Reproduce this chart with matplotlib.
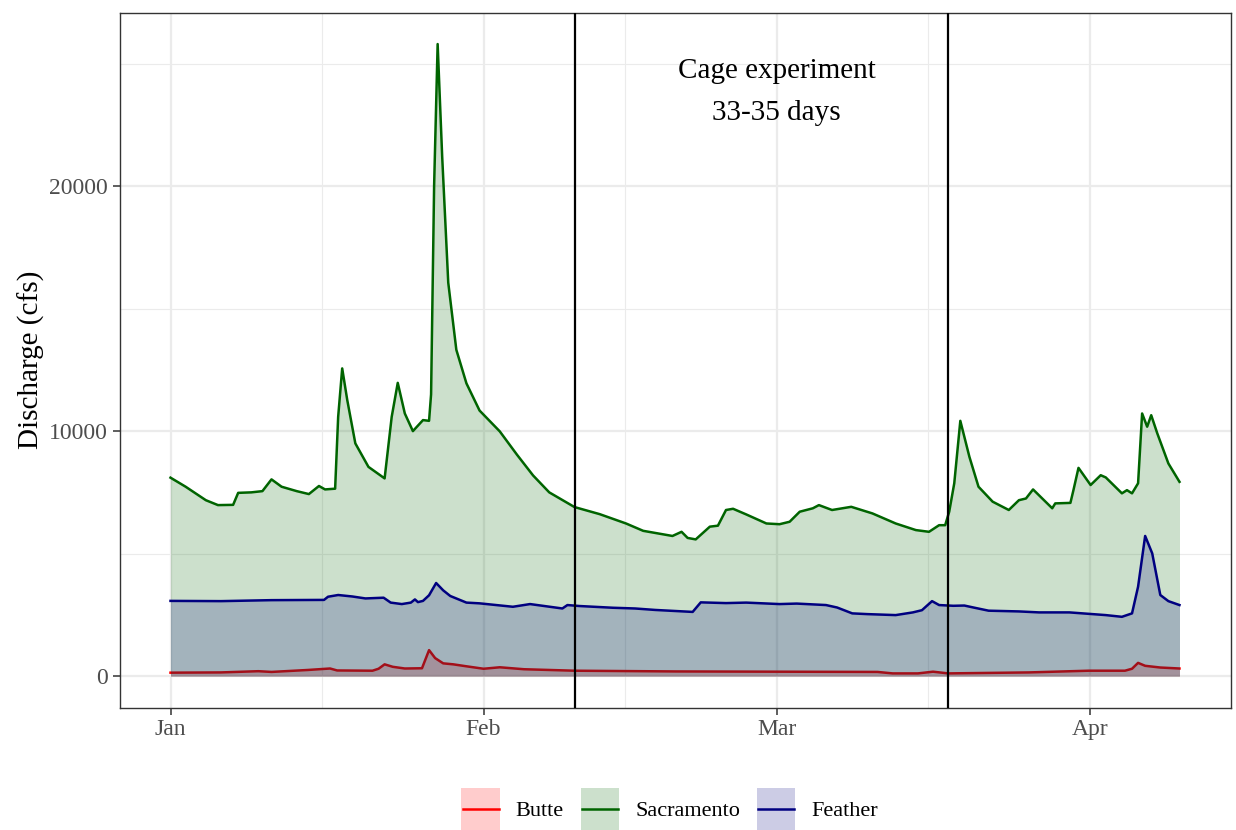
import numpy as np
import matplotlib
matplotlib.use("Agg")
import matplotlib.pyplot as plt
from matplotlib.patches import Rectangle
from matplotlib.lines import Line2D
from matplotlib.legend_handler import HandlerBase

plt.rcParams['font.family'] = ['Liberation Serif', 'DejaVu Serif']

# Discharge records, day offsets from 1 Jan 2020
start = np.datetime64('2020-01-01T00:00')

sac_day = [0, 1.5, 3.5, 4.7, 6.2, 6.7, 8.0, 9.1, 10.0, 11.0, 12.5, 13.7, 14.7, 15.3,
           16.3, 16.6, 17.0, 17.5, 18.3, 19.6, 21.2, 21.9, 22.5, 23.2, 24.0, 25.0,
           25.6, 25.8, 26.1, 26.45, 26.9, 27.5, 28.3, 29.3, 30.6, 32.6, 34.3, 35.9,
           37.5, 40.0, 42.5, 45.1, 46.8, 49.7, 50.6, 51.2, 52.0, 53.4, 54.2, 55.0,
           55.7, 57.0, 59.0, 60.3, 61.3, 62.3, 63.6, 64.2, 65.5, 67.4, 69.5, 71.8,
           73.8, 75.1, 76.1, 76.7, 77.1, 77.6, 78.2, 79.1, 80.0, 81.4, 83.0, 84.0,
           84.7, 85.4, 87.3, 87.6, 89.1, 89.4, 89.9, 91.1, 92.1, 92.6, 94.2, 94.7,
           95.2, 95.8, 96.2, 96.7, 97.1, 97.7, 98.8, 99.9]
sac_cfs = [8100, 7730, 7180, 6980, 6990, 7480, 7500, 7550, 8030, 7730, 7550, 7430, 7760, 7620,
           7650, 10580, 12560, 11270, 9500, 8540, 8070, 10580, 11970, 10720, 10000, 10450,
           10420, 11500, 20000, 25800, 21200, 16060, 13320, 11950, 10840, 9990, 9040, 8190,
           7500, 6900, 6610, 6230, 5930, 5720, 5890, 5640, 5580, 6100, 6140, 6780,
           6830, 6600, 6230, 6200, 6300, 6710, 6850, 6980, 6780, 6910, 6640, 6230,
           5960, 5890, 6160, 6160, 6710, 7870, 10420, 8950, 7730, 7120, 6780, 7180,
           7250, 7620, 6850, 7050, 7070, 7590, 8500, 7800, 8200, 8110, 7460, 7590,
           7460, 7870, 10720, 10180, 10650, 9910, 8680, 7930]

fea_day = [0, 5, 10, 15.2, 15.6, 16.6, 18.0, 19.3, 21.1, 21.8, 22.9, 23.8, 24.2, 24.5,
           25.0, 25.6, 26.3, 27.0, 27.7, 29.3, 30.6, 33.9, 35.6, 38.8, 39.3, 40.5,
           43.8, 46.0, 48.0, 51.7, 52.5, 55.0, 57.0, 60.3, 62.0, 64.9, 66.0, 67.5,
           69.0, 71.8, 73.5, 74.4, 75.4, 76.1, 77.5, 78.6, 79.5, 81.0, 84.0, 86.0,
           89.0, 92.6, 94.2, 95.2, 95.8, 96.5, 97.2, 98.0, 98.8, 99.9]
fea_cfs = [3070, 3060, 3100, 3110, 3240, 3310, 3250, 3170, 3200, 3000, 2940, 3000, 3130, 3020,
           3070, 3300, 3800, 3500, 3270, 3000, 2970, 2830, 2940, 2760, 2900, 2860,
           2790, 2760, 2700, 2620, 3010, 2980, 3000, 2940, 2960, 2900, 2800, 2560,
           2530, 2490, 2600, 2690, 3060, 2900, 2870, 2880, 2800, 2670, 2640, 2600,
           2600, 2490, 2420, 2560, 3650, 5720, 5010, 3310, 3060, 2900]

but_day = [0, 5, 8.7, 10, 13.6, 15.8, 16.5, 20.0, 20.6, 21.2, 22.0, 23.2, 24.9, 25.6,
           26.2, 27.0, 28.0, 29.3, 31.0, 32.6, 35.0, 40.0, 50.0, 60.0, 70.0, 71.5,
           74.0, 75.5, 77.0, 85.0, 90.9, 94.5, 95.2, 95.8, 96.5, 98.0, 99.9]
but_cfs = [140, 150, 200, 170, 250, 310, 230, 220, 300, 480, 380, 310, 320, 1060,
           735, 520, 480, 400, 300, 360, 280, 220, 190, 180, 170, 110,
           110, 180, 110, 150, 220, 220, 300, 540, 420, 350, 310]

series_names = ['Butte', 'Sacramento', 'Feather']
series_colors = ['red', '#006400', '#000080']

cage_start = np.datetime64('2020-02-10')
cage_end = np.datetime64('2020-03-18')
cage_label = 'Cage experiment\n33-35 days'
cage_label_at = (np.datetime64('2020-03-01'), 23850)

y_ticks = [0, 10000, 20000]
y_minor = [5000, 15000, 25000]
x_ticks = ['2020-01-01', '2020-02-01', '2020-03-01', '2020-04-01']
x_tick_labels = ['Jan', 'Feb', 'Mar', 'Apr']


def to_dates(days):
    return start + np.round(np.asarray(days, dtype=float) * 1440).astype('timedelta64[m]')


class AreaKey:
    """Legend entry for a shaded area with its outline."""
    def __init__(self, color, lw):
        self.color = color
        self.lw = lw


class AreaKeyHandler(HandlerBase):
    def create_artists(self, legend, orig_handle, xdescent, ydescent,
                       width, height, fontsize, trans):
        x0, y0 = -xdescent, -ydescent
        box = Rectangle((x0, y0), width, height, facecolor=orig_handle.color,
                        alpha=0.2, edgecolor='none', transform=trans)
        ym = y0 + height / 2
        line = Line2D([x0 + 1, x0 + width - 1], [ym, ym], color=orig_handle.color,
                      lw=orig_handle.lw, transform=trans)
        return [box, line]


fig = plt.figure(figsize=(12.36, 8.30), dpi=100)
ax = fig.add_axes([120 / 1236, 1 - 707.7 / 830, 1111 / 1236, 695 / 830])
ax.set_axisbelow(True)

# each river is layered in turn: its shaded area, then its outline,
# so later areas tint the earlier outlines
data = [(but_day, but_cfs), (sac_day, sac_cfs), (fea_day, fea_cfs)]
handles = []
for i, ((days, vals), name, col) in enumerate(zip(data, series_names, series_colors)):
    d = to_dates(days)
    z = 1 + 0.2 * i
    ax.fill_between(d, 0, vals, color=col, alpha=0.2, lw=0, zorder=z)
    ax.plot(d, vals, color=col, lw=1.8, zorder=z + 0.1)
    handles.append(AreaKey(col, 1.8))

for x in (cage_start, cage_end):
    ax.axvline(x, color='black', lw=1.6, zorder=5)

ax.text(cage_label_at[0], cage_label_at[1], cage_label, ha='center', va='center',
        fontsize=21, linespacing=1.8, color='black')

# axis limits with 5% padding around the data range
ax.set_xlim(start - np.timedelta64(5, 'D'), start + np.timedelta64(105, 'D'))
ax.set_ylim(-1290, 27080)

xt = [np.datetime64(t) for t in x_ticks]
ax.set_xticks(xt)
ax.set_xticklabels(x_tick_labels)
mids = [xt[i] + (xt[i + 1] - xt[i]) / 2 for i in range(len(xt) - 1)]
ax.set_xticks(mids, minor=True)
ax.set_yticks(y_ticks)
ax.set_yticklabels([str(v) for v in y_ticks])
ax.set_yticks(y_minor, minor=True)

ax.grid(which='major', color='#EBEBEB', lw=1.6)
ax.grid(which='minor', color='#EBEBEB', lw=0.8)

for s in ax.spines.values():
    s.set_color('#333333')
    s.set_linewidth(1.0)

ax.tick_params(which='major', length=5, width=1.1, color='#333333',
               labelsize=17, labelcolor='#4D4D4D', pad=3)
ax.tick_params(axis='y', which='major', pad=4)
ax.tick_params(which='minor', length=0)

ax.set_ylabel('Discharge (cfs)', fontsize=21, color='black')
ax.yaxis.label.set_verticalalignment('center')
ax.yaxis.set_label_coords(-0.080, 0.5)

fig.legend(handles, series_names, loc='center', bbox_to_anchor=(669.5 / 1236, 21 / 830),
           ncol=3, frameon=False, fontsize=16, handlelength=1.75, handleheight=2.51,
           handletextpad=0.7, columnspacing=0.75, borderpad=0,
           handler_map={AreaKey: AreaKeyHandler()})

fig.savefig('out.png', dpi=100)
